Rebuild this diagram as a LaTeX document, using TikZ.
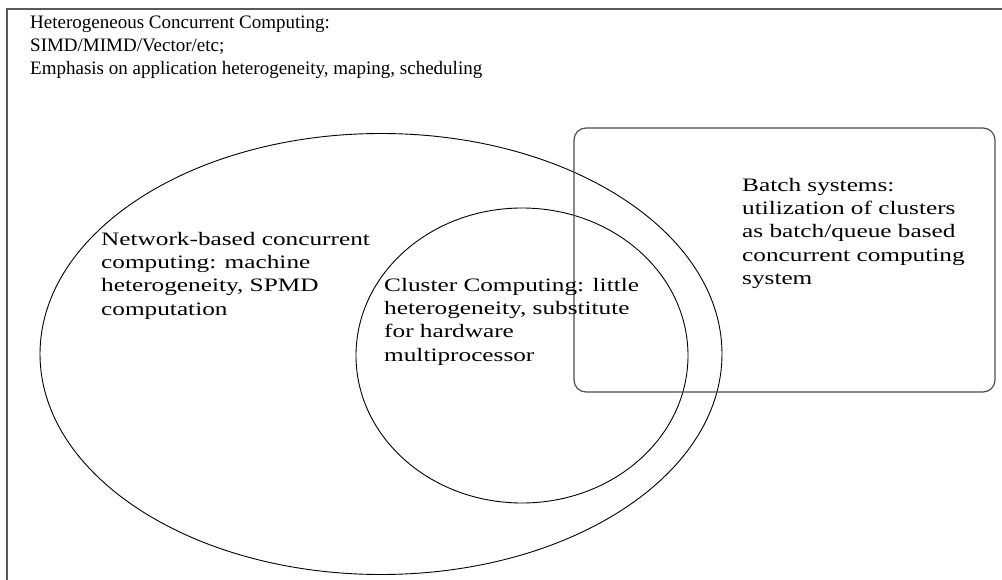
\documentclass[tikz,border=0pt]{standalone}
\usepackage{fontspec}
\setmainfont{Liberation Serif}
\newfontfamily\widefont[FakeStretch=1.33]{Liberation Serif}
\usetikzlibrary{shapes.geometric}
\begin{document}
\begin{tikzpicture}[x=1pt,y=-1pt,
  lbl/.style={anchor=north west,inner sep=0pt,align=left,font=\fontsize{19}{23}\selectfont},
  widelbl/.style={anchor=north west,inner sep=0pt,align=left,font=\widefont\fontsize{19}{23.3}\selectfont},
  shapeline/.style={draw=black,line width=0.9pt}]
\useasboundingbox (0,0) rectangle (1002,580);
\fill[white] (0,0) rectangle (1002,580);
% outer frame (extends past the right and bottom edges)
\draw[draw=black!65,line width=2pt] (6.5,590) -- (6.5,9.5) -- (1010,9.5);
% shapes
\node[shapeline,ellipse,minimum width=682pt,minimum height=441pt,inner sep=0pt] (outer) at (381,354) {};
\node[shapeline,ellipse,minimum width=332pt,minimum height=295pt,inner sep=0pt] (inner) at (522,355.5) {};
\node[draw=black!70,line width=1.2pt,rounded corners=12pt,minimum width=421pt,minimum height=264pt,inner sep=0pt] (batchbox) at (784.5,260) {};
% texts
\node[lbl] (title) at (30,15.5) {Heterogeneous Concurrent Computing:\\SIMD/MIMD/Vector/etc;\\Emphasis on application heterogeneity, maping, scheduling};
\node[widelbl] (network) at (101,232) {Network-based concurrent\\computing: machine\\heterogeneity, SPMD\\computation};
\node[widelbl] (cluster) at (384,278) {Cluster Computing: little\\heterogeneity, substitute\\for hardware\\multiprocessor};
\node[widelbl] (batch) at (742,178) {Batch systems:\\utilization of clusters\\as batch/queue based\\concurrent computing\\system};
\end{tikzpicture}
\end{document}
